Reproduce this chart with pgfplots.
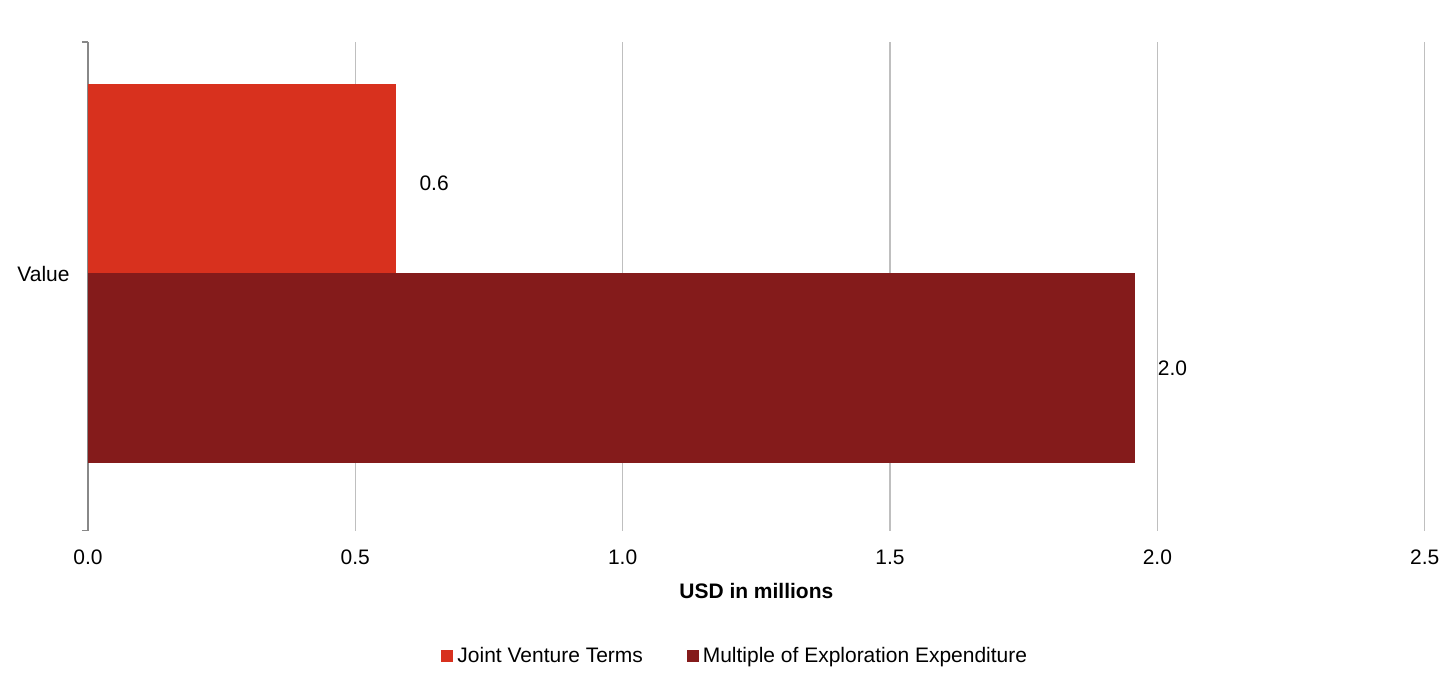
\documentclass[border=0pt]{standalone}
\usepackage{fontspec}
\setmainfont{Liberation Sans}
\usepackage{pgfplots}
\pgfplotsset{compat=1.18}
\definecolor{jvred}{HTML}{D8311E}
\definecolor{mdred}{HTML}{841B1B}
\definecolor{gridgray}{HTML}{BFBFBF}
\definecolor{axgray}{HTML}{888888}
\begin{document}
\begin{tikzpicture}
\path (0,0) rectangle (723pt,335pt);
\begin{axis}[
  at={(44pt,69.5pt)}, anchor=south west,
  width=669pt, height=244.5pt, scale only axis,
  font=\fontsize{10.5}{12.6}\selectfont,
  /pgf/number format/assume math mode=true,
  xbar, bar width=190, bar shift=0pt,
  xmin=0, xmax=2.5, ymin=0, ymax=489,
  xtick={0,0.5,1,1.5,2,2.5},
  xticklabel style={/pgf/number format/fixed,/pgf/number format/fixed zerofill,/pgf/number format/precision=1, anchor=center, yshift=-13.5pt},
  scaled x ticks=false,
  major x tick style={draw=none},
  xmajorgrids, grid style={gridgray, line width=0.6pt},
  ytick={257}, yticklabels={Value},
  yticklabel style={anchor=east, inner sep=0pt, xshift=-9pt},
  y tick style={draw=axgray, line width=0.8pt},
  major tick length=0pt,
  extra y ticks={0,489}, extra y tick labels={},
  extra y tick style={major tick length=3pt, tick align=outside},
  axis lines*=left,
  axis line style={-},
  x axis line style={draw=none},
  y axis line style={draw=axgray, line width=0.9pt},
  xlabel={\textbf{USD in millions}},
  xlabel style={at={(axis description cs:0.5,-0.1247)}, anchor=center},
  nodes near coords,
  point meta=x,
  every node near coord/.append style={anchor=west, xshift=8pt, /pgf/number format/fixed,/pgf/number format/fixed zerofill,/pgf/number format/precision=1, font=\fontsize{10.5}{12.6}\selectfont},
  legend style={at={(axis description cs:0.485,-0.2577)}, anchor=center, draw=none, legend columns=2, column sep=0pt, font=\fontsize{10.5}{12.6}\selectfont, /tikz/every even column/.append style={column sep=20pt}},
  legend image code/.code={\fill[#1] (0pt,-3pt) rectangle (6pt,3pt);},
  clip=false,
]
\addplot[fill=jvred, draw=none, every node near coord/.append style={yshift=-2pt}] coordinates {(0.577,352)};
\addplot[fill=mdred, draw=none] coordinates {(1.958,162.5)};
\legend{Joint Venture Terms, Multiple of Exploration Expenditure}
\end{axis}
\end{tikzpicture}
\end{document}
